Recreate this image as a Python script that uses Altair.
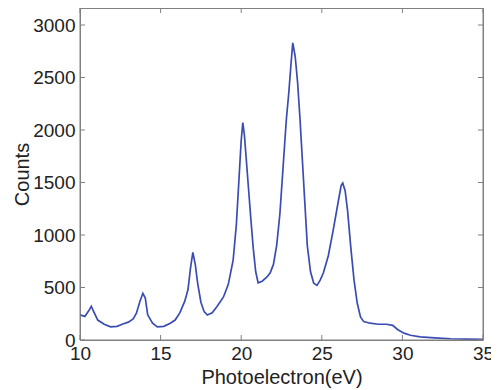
import altair as alt
import pandas as pd

energy = [10.0, 10.3, 10.55, 10.7, 10.85, 11.1, 11.5, 11.9, 12.3, 12.7, 13.0, 13.3, 13.5, 13.7, 13.9,
          14.05, 14.2, 14.5, 14.8, 15.2, 15.6, 15.9, 16.2, 16.5, 16.7, 16.85, 17.0, 17.15, 17.3, 17.5,
          17.7, 17.9, 18.2, 18.5, 18.9, 19.2, 19.5, 19.7, 19.85, 20.0, 20.1, 20.2, 20.3, 20.45, 20.6,
          20.75, 20.9, 21.05, 21.3, 21.6, 21.8, 22.0, 22.2, 22.4, 22.6, 22.8, 22.95, 23.1, 23.2, 23.35,
          23.5, 23.65, 23.8, 23.95, 24.1, 24.3, 24.5, 24.7, 24.9, 25.1, 25.4, 25.7, 26.0, 26.2, 26.3,
          26.45, 26.6, 26.8, 27.0, 27.2, 27.4, 27.6, 28.0, 28.5, 29.0, 29.4, 29.7, 30.1, 30.5, 31.1,
          32.0, 33.0, 34.0, 35.0]
counts = [240, 225, 280, 320, 270, 190, 150, 125, 130, 155, 170, 200, 255, 360, 445,
          400, 240, 160, 125, 130, 160, 190, 260, 370, 480, 680, 835, 720, 540, 360,
          270, 238, 260, 320, 410, 530, 760, 1100, 1500, 1900, 2070, 1950, 1750, 1450, 1150,
          870, 650, 545, 560, 600, 640, 720, 900, 1200, 1650, 2100, 2350, 2650, 2830, 2700,
          2450, 2100, 1700, 1300, 900, 650, 540, 520, 570, 640, 800, 1040, 1300, 1470, 1495,
          1420, 1230, 880, 570, 350, 220, 175, 160, 150, 150, 140, 100, 65, 45, 30,
          20, 12, 8, 5]

x_ticks = [10, 15, 20, 25, 30, 35]
y_ticks = [0, 500, 1000, 1500, 2000, 2500, 3000]

W, H = 403, 332
FONT = "Liberation Sans"
GRAY = "#808080"
TICK = 5

df = pd.DataFrame({"energy": energy, "counts": counts})
xt = pd.DataFrame({"t": x_ticks})
yt = pd.DataFrame({"t": y_ticks})

xscale = alt.Scale(domain=[10, 35], nice=False, zero=False)
yscale = alt.Scale(domain=[0, 3162], nice=False, zero=False)

line = alt.Chart(df).mark_line(color="#3a4cb4", strokeWidth=1.7, clip=True).encode(
    x=alt.X("energy:Q", scale=xscale, title="Photoelectron(eV)",
            axis=alt.Axis(values=x_ticks, grid=False, ticks=False, domain=False,
                          labelFlush=False, labelOverlap=False,
                          labelFontSize=19, labelPadding=4, titleFontSize=20, titlePadding=4,
                          labelFont=FONT, titleFont=FONT, labelColor="#222", titleColor="#222",
                          titleFontWeight="normal", format="d")),
    y=alt.Y("counts:Q", scale=yscale, title="Counts",
            axis=alt.Axis(values=y_ticks, grid=False, ticks=False, domain=False,
                          labelFlush=False, labelOverlap=False,
                          labelFontSize=19, labelPadding=5, titleFontSize=20, titlePadding=0,
                          labelFont=FONT, titleFont=FONT, labelColor="#222", titleColor="#222",
                          titleFontWeight="normal", format="d")),
)

xb = alt.Chart(xt).mark_rule(color=GRAY, strokeWidth=1).encode(
    x=alt.X("t:Q", scale=xscale, axis=None),
    y=alt.value(H), y2=alt.value(H - TICK))
xtop = alt.Chart(xt).mark_rule(color=GRAY, strokeWidth=1).encode(
    x=alt.X("t:Q", scale=xscale, axis=None),
    y=alt.value(0), y2=alt.value(TICK))
yl = alt.Chart(yt).mark_rule(color=GRAY, strokeWidth=1).encode(
    y=alt.Y("t:Q", scale=yscale, axis=None),
    x=alt.value(0), x2=alt.value(TICK))
yr = alt.Chart(yt).mark_rule(color=GRAY, strokeWidth=1).encode(
    y=alt.Y("t:Q", scale=yscale, axis=None),
    x=alt.value(W), x2=alt.value(W - TICK))

frame_top = alt.Chart().mark_rule(color=GRAY, strokeWidth=1).encode(
    x=alt.value(0), x2=alt.value(W), y=alt.value(0))
frame_bottom = alt.Chart().mark_rule(color=GRAY, strokeWidth=1).encode(
    x=alt.value(0), x2=alt.value(W), y=alt.value(H))
frame_left = alt.Chart().mark_rule(color=GRAY, strokeWidth=1).encode(
    y=alt.value(0), y2=alt.value(H), x=alt.value(0))
frame_right = alt.Chart().mark_rule(color=GRAY, strokeWidth=1).encode(
    y=alt.value(0), y2=alt.value(H), x=alt.value(W))

chart = alt.layer(line, xb, xtop, yl, yr, frame_top, frame_bottom, frame_left, frame_right).resolve_axis(
    x="independent", y="independent"
).properties(
    width=W, height=H,
    padding={"left": 72, "top": 0, "right": 8, "bottom": 50},
    autosize="none",
    background="white",
).configure_view(stroke=GRAY, strokeWidth=1)

chart.save("out.html", embed_options={"renderer": "svg", "actions": False})
